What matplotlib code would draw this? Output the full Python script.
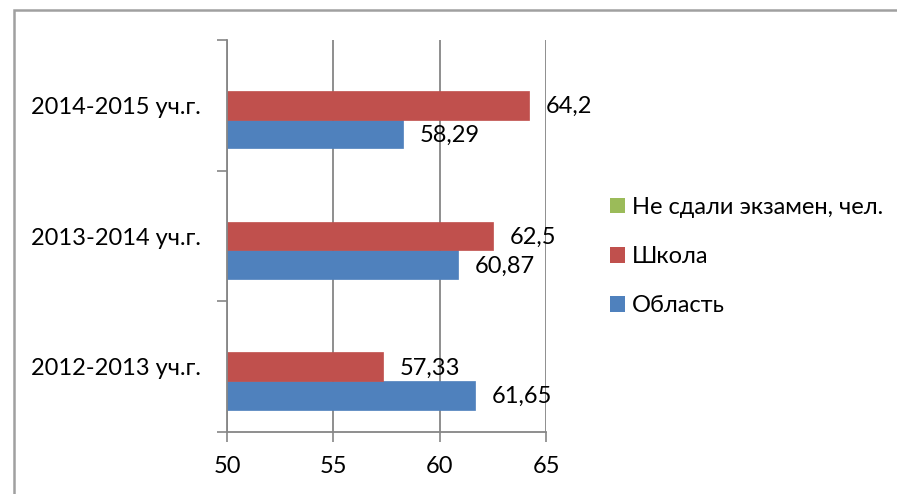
import matplotlib
matplotlib.use("Agg")
import matplotlib.pyplot as plt
from matplotlib.patches import Rectangle, Patch
import numpy as np

plt.rcParams['font.family'] = ['Lato', 'DejaVu Sans']

categories = ["2012-2013 уч.г.", "2013-2014 уч.г.", "2014-2015 уч.г."]
oblast = [61.65, 60.87, 58.29]
shkola = [57.33, 62.5, 64.2]
ne_sdali = [0, 0, 0]
oblast_labels = ["61,65", "60,87", "58,29"]
shkola_labels = ["57,33", "62,5", "64,2"]
series_names = ["Область", "Школа", "Не сдали экзамен, чел."]
xticks = [50, 55, 60, 65]

c_blue = "#4F81BD"
c_red = "#C0504D"
c_green = "#9BBB59"
grid_c = "#868686"

fig = plt.figure(figsize=(8.97, 4.94), dpi=100)
ax = fig.add_axes([227/897, 1-432/494, (546-227)/897, (432-40)/494])

y = np.arange(len(categories))
h = 0.22
ax.barh(y - h, oblast, height=h, color=c_blue, edgecolor=c_blue, linewidth=0.5)
ax.barh(y, shkola, height=h, color=c_red, edgecolor=c_red, linewidth=0.5)
ax.barh(y + h, ne_sdali, height=h, color=c_green)

ax.set_xlim(50, 65)
ax.set_ylim(-0.5, len(categories) - 0.5)

fs = 17
for yi, v, lab in zip(y, oblast, oblast_labels):
    ax.annotate(lab, (v, yi - h), xytext=(12, -1), textcoords='offset points',
                ha='left', va='center', fontsize=fs, color='black')
for yi, v, lab in zip(y, shkola, shkola_labels):
    ax.annotate(lab, (v, yi), xytext=(12, -1), textcoords='offset points',
                ha='left', va='center', fontsize=fs, color='black')

ax.set_xticks(xticks)
ax.set_xticklabels([str(t) for t in xticks], fontsize=fs)
ax.set_yticks(y)
ax.set_yticklabels(categories, fontsize=fs)
ax.set_yticks(np.arange(len(categories) + 1) - 0.5, minor=True)
ax.tick_params(axis='y', which='major', length=0, pad=19)
ax.tick_params(axis='y', which='minor', length=7, width=1.2, color=grid_c, direction='out')
ax.tick_params(axis='x', which='major', length=7, width=1.2, color=grid_c, direction='out', pad=10)

ax.xaxis.grid(True, color=grid_c, linewidth=1.3)
ax.set_axisbelow(True)
for s in ['top', 'right']:
    ax.spines[s].set_visible(False)
ax.spines['left'].set_color(grid_c)
ax.spines['left'].set_linewidth(1.3)
ax.spines['bottom'].set_color(grid_c)
ax.spines['bottom'].set_linewidth(1.3)

handles = [Patch(facecolor=c_green), Patch(facecolor=c_red), Patch(facecolor=c_blue)]
labels = [series_names[2], series_names[1], series_names[0]]
leg = fig.legend(handles, labels, loc='upper left', bbox_to_anchor=(598/897, 1-185/494),
                 frameon=False, fontsize=fs, handlelength=0.65, handleheight=0.65,
                 handletextpad=0.3, labelspacing=1.2, borderpad=0)

fig.patches.append(Rectangle((14/897, -0.2), 2, 1 - 10/494 + 0.2, transform=fig.transFigure,
                             fill=False, edgecolor="#A0A0A0", linewidth=1.8))

fig.savefig("out.png", dpi=100)
